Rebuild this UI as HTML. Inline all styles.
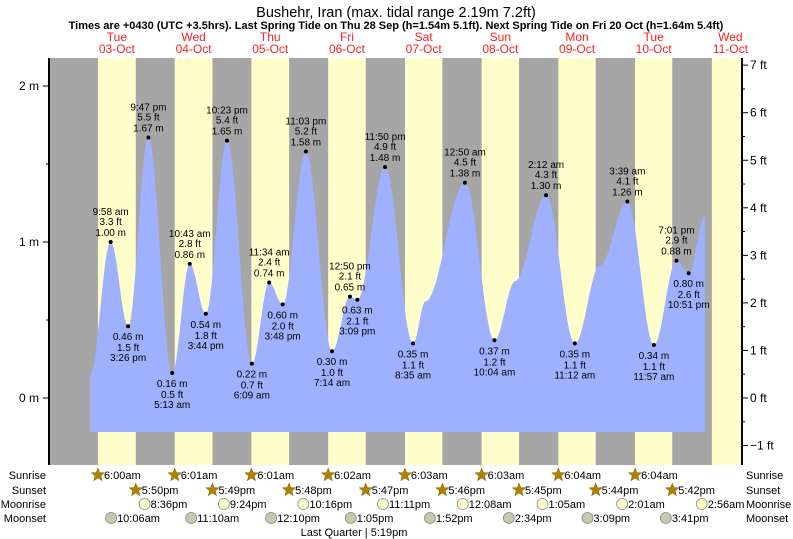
<!DOCTYPE html>
<html><head><meta charset="utf-8"><style>
body{margin:0;background:#fff;}
svg{display:block;font-family:"Liberation Sans",sans-serif;}
</style></head><body>
<svg id="chart" width="793" height="539" xmlns="http://www.w3.org/2000/svg">
<text x="396" y="17" text-anchor="middle" font-size="14.5">Bushehr, Iran (max. tidal range 2.19m 7.2ft)</text>
<text x="396" y="29" text-anchor="middle" font-size="11" font-weight="bold">Times are +0430 (UTC +3.5hrs). Last Spring Tide on Thu 28 Sep (h=1.54m 5.1ft). Next Spring Tide on Fri 20 Oct (h=1.64m 5.4ft)</text>
<g id="bands"></g><g id="tide"></g><g id="axes"></g><g id="labels"></g><g id="table"></g>
</svg>
<script>
const dayNames=["Tue","Wed","Thu","Fri","Sat","Sun","Mon","Tue","Wed"];
const dayDates=["03-Oct","04-Oct","05-Oct","06-Oct","07-Oct","08-Oct","09-Oct","10-Oct","11-Oct"];
const sunrise=["6:00am","6:01am","6:01am","6:02am","6:03am","6:03am","6:04am","6:04am","6:05am"];
const sunset=["5:50pm","5:49pm","5:48pm","5:47pm","5:46pm","5:45pm","5:44pm","5:42pm","5:41pm"];
const moonriseDay=[0,1,2,3,5,6,7,8];
const moonrise=["8:36pm","9:24pm","10:16pm","11:11pm","12:08am","1:05am","2:01am","2:56am"];
const moonsetDay=[0,1,2,3,4,5,6,7];
const moonset=["10:06am","11:10am","12:10pm","1:05pm","1:52pm","2:34pm","3:09pm","3:41pm"];
// tide extremes: day index, time, height m, label shown
const tideDay=[0,0,0,0,1,1,1,1,2,2,2,2,3,3,3,3,4,4,5,5,5,6,6,6,7,7,7,7,8];
const tideTime=["3:32am","9:58am","3:26pm","9:47pm","5:13am","10:43am","3:44pm","10:23pm","6:09am","11:34am","3:48pm","11:03pm","7:14am","12:50pm","3:09pm","11:50pm","8:35am","12:29pm","12:50am","10:04am","4:34pm","2:12am","11:12am","7:05pm","3:39am","11:57am","7:01pm","10:51pm","3:56am"];
const tideH=[0.15,1.00,0.46,1.67,0.16,0.86,0.54,1.65,0.22,0.74,0.60,1.58,0.30,0.65,0.63,1.48,0.35,0.62,1.38,0.37,0.75,1.30,0.35,0.85,1.26,0.34,0.88,0.80,1.17];
const tideShow=[0,1,1,1,1,1,1,1,1,1,1,1,1,1,1,1,1,0,1,1,0,1,1,0,1,1,1,1,0];

const NS="http://www.w3.org/2000/svg";
const X0=78.8,DW=76.7,L=49,R=742,T=58,B=465;
function tParse(s){const m=s.match(/(\d+):(\d+)(am|pm)/);let h=+m[1]%12;if(m[3]=="pm")h+=12;return (h+ +m[2]/60)/24;}
function xs(d,s){return X0+DW*(d+tParse(s));}
function ys(m){return 398-156*m;}
function el(tag,attrs,parent,txt){const e=document.createElementNS(NS,tag);for(const k in attrs)e.setAttribute(k,attrs[k]);if(txt!==undefined)e.textContent=txt;parent.appendChild(e);return e;}
const bands=document.getElementById('bands'),tide=document.getElementById('tide'),axes=document.getElementById('axes'),labels=document.getElementById('labels'),table=document.getElementById('table');
let bg=el('rect',{x:L,y:T,width:R-L,height:B-T,fill:'#a6a6a6'},bands);


for(let d=0;d<dayNames.length;d++){
  const x1=xs(d,sunrise[d]),x2=Math.min(R,xs(d,sunset[d]));
  const b=el('rect',{x:x1,y:T,width:x2-x1,height:B-T,fill:'#ffffcc'},bands);
  
  
  const cx=(xs(d,sunrise[d])+xs(d,sunset[d]))/2;
  const t1=el('text',{x:cx,y:41,'text-anchor':'middle','font-size':12,fill:'#ff2020'},labels,dayNames[d]);
  
  
  const t2=el('text',{x:cx,y:53,'text-anchor':'middle','font-size':12,fill:'#ff2020'},labels,dayDates[d]);
  
  
}
// tide curve
const px=tideTime.map((s,i)=>xs(tideDay[i],s)),py=tideH.map(ys);
let d='M'+px[0]+' 432 L'+px[0]+' '+py[0];
for(let i=0;i<px.length-1;i++){
  for(let k=1;k<=20;k++){const f=k/20,c=(1-Math.cos(Math.PI*f))/2;d+=' L'+(px[i]+(px[i+1]-px[i])*f).toFixed(1)+' '+(py[i]+(py[i+1]-py[i])*c).toFixed(1);}
}
d+=' L'+px[px.length-1]+' 432 Z';
const area=el('path',{d:d,fill:'#9fb0ff'},tide);


for(let i=0;i<px.length;i++){
  if(!tideShow[i])continue;
  const isHigh=(i>0&&tideH[i]>tideH[i-1]);
  const p=el('circle',{cx:px[i],cy:py[i],r:2,fill:'#000'},labels);
  
  
  const ft=(tideH[i]/0.3048).toFixed(1)+' ft',m=tideH[i].toFixed(2)+' m',tm=tideTime[i].replace(/(am|pm)/,' $1');
  const lines=isHigh?[[tm,-27],[ft,-17],[m,-6]]:[[m,14],[ft,25],[tm,35]];
  for(const [s,o] of lines){
    const t=el('text',{x:px[i],y:py[i]+o,'text-anchor':'middle','font-size':10},labels,s);
    
    
  }
}
// axes
el('line',{x1:L,y1:T,x2:L,y2:B,stroke:'#000','stroke-width':2},axes);
el('line',{x1:R,y1:T,x2:R,y2:B,stroke:'#000','stroke-width':2},axes);
for(let v=-0.5;v<=2.5;v+=0.5){const y=ys(v);if(y<T||y>B)continue;const major=Math.abs(v-Math.round(v))<0.01;
  el('line',{x1:L-(major?6:3),y1:y,x2:L,y2:y,stroke:'#000'},axes);
  if(major){const t=el('text',{x:L-10,y:y+4,'text-anchor':'end','font-size':12},axes,v+' m');}}
for(let v=-1.5;v<=7.5;v+=0.5){const y=398-47.55*v;if(y<T||y>B)continue;const major=Math.abs(v-Math.round(v))<0.01;
  el('line',{x1:R,y1:y,x2:R+(major?6:3),y2:y,stroke:'#000'},axes);
  if(major){const t=el('text',{x:R+8,y:y+4,'font-size':12},axes,(v<0?'\u2212'+(-v):v)+' ft');}}
// table
const rows=[["Sunrise",479],["Sunset",494],["Moonrise",508],["Moonset",522]];
for(const [n,y] of rows){
  const a=el('text',{x:46,y:y,'text-anchor':'end','font-size':11},table,n);
  const b=el('text',{x:746,y:y,'font-size':11},table,n);
}
function star(x,y){const pts=[];for(let k=0;k<10;k++){const r=k%2?3:7,a=-Math.PI/2+k*Math.PI/5;pts.push((x+r*Math.cos(a)).toFixed(1)+','+(y+r*Math.sin(a)).toFixed(1));}
  const s=el('polygon',{points:pts.join(' '),fill:'#b08000',stroke:'#806000','stroke-width':0.5},table);}
function item(x,y,txt,kind){
  if(kind=='star')star(x,y-4);else{const c=el('circle',{cx:x,cy:y-4,r:5.5,fill:kind=='rise'?'#ffffcc':'#c8c8b0',stroke:'#888','stroke-width':0.8},table);}
  const t=el('text',{x:x+6,y:y,'font-size':11},table,txt);}
for(let i=0;i<8;i++){item(xs(i,sunrise[i]),479,sunrise[i],'star');item(xs(i,sunset[i]),494,sunset[i],'star');}
for(let i=0;i<moonrise.length;i++)item(xs(moonriseDay[i],moonrise[i]),508,moonrise[i],'rise');
for(let i=0;i<moonset.length;i++)item(xs(moonsetDay[i],moonset[i]),522,moonset[i],'set');
const lq=el('text',{x:354,y:536,'text-anchor':'middle','font-size':11},table,'Last Quarter | 5:19pm');


</script>
</body></html>
